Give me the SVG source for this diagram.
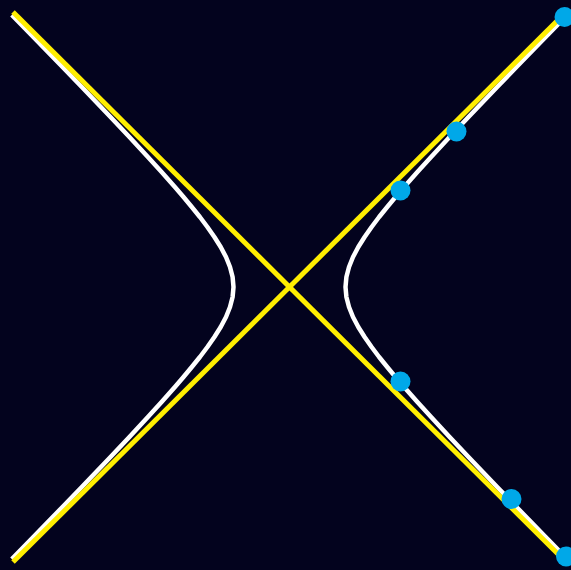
<svg xmlns="http://www.w3.org/2000/svg" width="571" height="570" viewBox="0 0 571 570">
<style>
.hyp{fill:none;stroke:#ffffff;stroke-width:4.5;stroke-linejoin:round}
.asym{stroke:#ffee00;stroke-width:5}
.pt{fill:#00a8e8}
</style>
<rect width="571" height="570" fill="#03031e"/>
<g id="hyperbola">
<polyline id="right-branch" class="hyp" points="567.2,15 545.7,37 516.5,67 497.2,87 468.5,117 449.6,137 431.1,157 417.4,172 404.1,187 395.5,197 387.2,207 379.1,217 371.6,227 364.6,237 358.3,247 353,257 349,267 346.4,277 345.5,287 346.4,297 349,307 353,317 358.3,327 364.6,337 371.6,347 379.1,357 387.2,367 395.5,377 404.1,387 417.4,402 431.1,417 449.6,437 468.5,457 497.2,487 516.5,507 545.7,537 567.2,559"/>
<polyline id="left-branch" class="hyp" points="11.8,15 33.3,37 62.5,67 81.8,87 110.5,117 129.4,137 147.9,157 161.6,172 174.9,187 183.5,197 191.8,207 199.9,217 207.4,227 214.4,237 220.7,247 226,257 230,267 232.6,277 233.5,287 232.6,297 230,307 226,317 220.7,327 214.4,337 207.4,347 199.9,357 191.8,367 183.5,377 174.9,387 161.6,402 147.9,417 129.4,437 110.5,457 81.8,487 62.5,507 33.3,537 11.8,559"/>
</g>
<g id="asymptotes">
<line class="asym" x1="13" y1="12" x2="566" y2="562"/>
<line class="asym" x1="13" y1="562" x2="566" y2="12"/>
</g>
<g id="points">
<circle class="pt" cx="564.5" cy="17" r="10"/>
<circle class="pt" cx="456.5" cy="131.5" r="10"/>
<circle class="pt" cx="400.5" cy="190.5" r="10"/>
<circle class="pt" cx="400.5" cy="381.5" r="10"/>
<circle class="pt" cx="511.5" cy="499" r="10"/>
<circle class="pt" cx="566" cy="556.5" r="10"/>
</g>
</svg>
